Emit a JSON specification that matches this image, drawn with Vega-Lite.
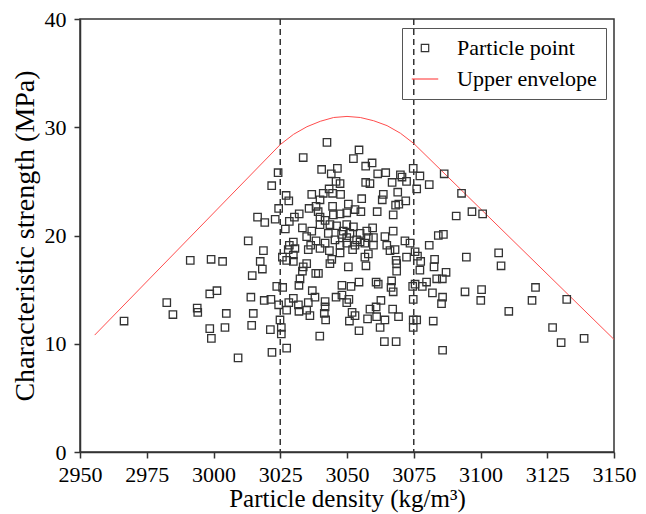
{
  "$schema": "https://vega.github.io/schema/vega-lite/v6.json",
  "width": 534,
  "height": 433,
  "autosize": "none",
  "padding": {"left": 80, "top": 19, "right": 32, "bottom": 62},
  "background": "white",
  "config": {
    "view": {"stroke": "#333", "strokeWidth": 1.5},
    "font": "Liberation Serif",
    "axis": {
      "labelFont": "Liberation Serif",
      "titleFont": "Liberation Serif",
      "labelFontSize": 22,
      "titleFontSize": 25,
      "titleFontWeight": "normal",
      "labelColor": "black",
      "titleColor": "black",
      "labelFlush": false,
      "labelOverlap": false,
      "domainColor": "#333",
      "domainWidth": 1.5,
      "tickColor": "#333",
      "tickWidth": 1.5,
      "tickSize": 6,
      "grid": false
    },
    "legend": {
      "labelFont": "Liberation Serif",
      "labelFontSize": 22,
      "labelColor": "black"
    }
  },
  "datasets": {
    "points": [
      {"density": 2966.5, "strength": 12.1}, {"density": 2982.5, "strength": 13.8}, {"density": 2984.8, "strength": 12.7},
      {"density": 2991.3, "strength": 17.7}, {"density": 2999.1, "strength": 17.8}, {"density": 3003.4, "strength": 17.6},
      {"density": 2998.6, "strength": 14.6}, {"density": 3001.3, "strength": 14.9}, {"density": 2993.9, "strength": 13.3},
      {"density": 2994.1, "strength": 12.9}, {"density": 3004.8, "strength": 12.8}, {"density": 2998.6, "strength": 11.4},
      {"density": 2999.2, "strength": 10.5}, {"density": 3004.3, "strength": 11.5}, {"density": 3009.2, "strength": 8.7},
      {"density": 3013.0, "strength": 19.5}, {"density": 3016.5, "strength": 21.7}, {"density": 3019.2, "strength": 21.2},
      {"density": 3018.7, "strength": 18.6}, {"density": 3017.5, "strength": 17.6}, {"density": 3018.3, "strength": 16.9},
      {"density": 3014.5, "strength": 16.3}, {"density": 3014.0, "strength": 14.3}, {"density": 3014.9, "strength": 12.8},
      {"density": 3014.3, "strength": 11.7}, {"density": 3019.0, "strength": 14.0}, {"density": 3021.5, "strength": 14.1},
      {"density": 3021.3, "strength": 11.3}, {"density": 3021.9, "strength": 9.2}, {"density": 3023.1, "strength": 21.5},
      {"density": 3024.4, "strength": 22.5}, {"density": 3026.9, "strength": 20.6}, {"density": 3023.7, "strength": 15.3},
      {"density": 3025.9, "strength": 15.2}, {"density": 3024.4, "strength": 13.6}, {"density": 3024.9, "strength": 12.2},
      {"density": 3025.4, "strength": 11.5}, {"density": 3025.4, "strength": 10.9}, {"density": 3027.4, "strength": 9.6},
      {"density": 3025.8, "strength": 18.0}, {"density": 3028.0, "strength": 18.7}, {"density": 3028.2, "strength": 13.8},
      {"density": 3027.4, "strength": 13.1}, {"density": 3024.2, "strength": 25.8}, {"density": 3021.8, "strength": 24.6},
      {"density": 3027.2, "strength": 23.7}, {"density": 3028.2, "strength": 23.2},
      {"density": 3042.5, "strength": 28.6}, {"density": 3033.6, "strength": 27.2}, {"density": 3040.5, "strength": 26.1},
      {"density": 3046.4, "strength": 26.2}, {"density": 3044.1, "strength": 25.7}, {"density": 3045.9, "strength": 25.0},
      {"density": 3047.4, "strength": 24.8}, {"density": 3043.3, "strength": 24.3}, {"density": 3041.1, "strength": 23.9},
      {"density": 3036.8, "strength": 23.8}, {"density": 3039.9, "strength": 23.3}, {"density": 3044.6, "strength": 23.9},
      {"density": 3047.6, "strength": 23.8}, {"density": 3038.4, "strength": 22.7}, {"density": 3035.8, "strength": 22.5},
      {"density": 3044.6, "strength": 22.7}, {"density": 3039.2, "strength": 22.2}, {"density": 3032.1, "strength": 22.0},
      {"density": 3030.3, "strength": 21.7}, {"density": 3028.4, "strength": 21.3}, {"density": 3039.9, "strength": 21.7},
      {"density": 3044.9, "strength": 21.9}, {"density": 3047.4, "strength": 22.0}, {"density": 3041.8, "strength": 21.4},
      {"density": 3039.9, "strength": 21.0}, {"density": 3033.3, "strength": 20.7}, {"density": 3043.6, "strength": 21.0},
      {"density": 3046.1, "strength": 20.9}, {"density": 3036.8, "strength": 20.4}, {"density": 3043.0, "strength": 20.2},
      {"density": 3048.0, "strength": 20.1}, {"density": 3034.9, "strength": 19.9}, {"density": 3038.4, "strength": 19.5},
      {"density": 3041.8, "strength": 19.3}, {"density": 3045.5, "strength": 19.6}, {"density": 3029.9, "strength": 19.4},
      {"density": 3028.4, "strength": 19.1}, {"density": 3030.5, "strength": 18.8}, {"density": 3036.4, "strength": 19.1},
      {"density": 3039.9, "strength": 18.8}, {"density": 3047.4, "strength": 19.1},
      {"density": 3054.5, "strength": 27.9}, {"density": 3052.4, "strength": 27.1}, {"density": 3057.0, "strength": 26.4},
      {"density": 3059.4, "strength": 26.7}, {"density": 3061.5, "strength": 25.7}, {"density": 3064.5, "strength": 25.8},
      {"density": 3070.0, "strength": 25.6}, {"density": 3070.6, "strength": 25.4}, {"density": 3072.3, "strength": 25.0},
      {"density": 3074.8, "strength": 26.2}, {"density": 3077.3, "strength": 25.5}, {"density": 3076.1, "strength": 24.3},
      {"density": 3080.8, "strength": 24.7}, {"density": 3086.4, "strength": 25.7}, {"density": 3057.0, "strength": 24.9},
      {"density": 3058.6, "strength": 24.8}, {"density": 3066.9, "strength": 24.9}, {"density": 3055.5, "strength": 23.4},
      {"density": 3063.6, "strength": 23.8}, {"density": 3063.2, "strength": 23.3}, {"density": 3069.0, "strength": 24.0},
      {"density": 3072.0, "strength": 23.2}, {"density": 3069.4, "strength": 22.9}, {"density": 3068.2, "strength": 22.8},
      {"density": 3050.5, "strength": 22.9}, {"density": 3053.0, "strength": 22.4}, {"density": 3049.9, "strength": 22.1},
      {"density": 3055.2, "strength": 22.2}, {"density": 3061.3, "strength": 22.2}, {"density": 3067.3, "strength": 21.9},
      {"density": 3049.9, "strength": 21.0}, {"density": 3052.4, "strength": 20.8}, {"density": 3048.6, "strength": 20.4},
      {"density": 3051.1, "strength": 20.2}, {"density": 3054.9, "strength": 20.2}, {"density": 3057.4, "strength": 20.4},
      {"density": 3059.6, "strength": 20.7}, {"density": 3049.9, "strength": 19.8}, {"density": 3053.6, "strength": 19.6},
      {"density": 3058.0, "strength": 19.8}, {"density": 3059.9, "strength": 19.8}, {"density": 3064.2, "strength": 19.9},
      {"density": 3067.3, "strength": 20.4}, {"density": 3071.7, "strength": 19.5}, {"density": 3073.6, "strength": 19.3},
      {"density": 3084.2, "strength": 20.0}, {"density": 3086.1, "strength": 20.1}, {"density": 3064.9, "strength": 19.1},
      {"density": 3080.8, "strength": 19.1}, {"density": 3049.9, "strength": 19.3}, {"density": 3053.0, "strength": 19.1},
      {"density": 3054.9, "strength": 19.4}, {"density": 3056.7, "strength": 19.3}, {"density": 3059.9, "strength": 19.1},
      {"density": 3092.9, "strength": 23.9}, {"density": 3090.9, "strength": 21.8}, {"density": 3096.8, "strength": 22.2},
      {"density": 3100.8, "strength": 22.0}, {"density": 3094.7, "strength": 18.0}, {"density": 3106.8, "strength": 18.4},
      {"density": 3107.7, "strength": 17.2}, {"density": 3087.1, "strength": 16.6}, {"density": 3085.7, "strength": 16.0},
      {"density": 3094.2, "strength": 14.8}, {"density": 3100.4, "strength": 15.0}, {"density": 3100.1, "strength": 14.0},
      {"density": 3110.6, "strength": 13.0}, {"density": 3120.6, "strength": 15.2}, {"density": 3119.3, "strength": 14.0},
      {"density": 3132.3, "strength": 14.1}, {"density": 3127.0, "strength": 11.5}, {"density": 3130.2, "strength": 10.1},
      {"density": 3138.8, "strength": 10.5}, {"density": 3085.8, "strength": 14.3}, {"density": 3085.4, "strength": 13.7},
      {"density": 3085.8, "strength": 9.4},
      {"density": 3039.8, "strength": 10.7}, {"density": 3054.5, "strength": 11.2}, {"density": 3064.0, "strength": 10.2},
      {"density": 3068.4, "strength": 10.2}, {"density": 3074.8, "strength": 11.5}, {"density": 3074.8, "strength": 12.2},
      {"density": 3076.1, "strength": 12.2}, {"density": 3082.3, "strength": 12.1}, {"density": 3074.8, "strength": 14.1},
      {"density": 3082.0, "strength": 14.7}, {"density": 3062.4, "strength": 11.5}, {"density": 3057.7, "strength": 12.3},
      {"density": 3061.1, "strength": 12.5}, {"density": 3064.2, "strength": 12.2}, {"density": 3069.3, "strength": 12.5},
      {"density": 3067.1, "strength": 13.2}, {"density": 3062.7, "strength": 14.0}, {"density": 3060.9, "strength": 13.4},
      {"density": 3058.6, "strength": 13.2}, {"density": 3051.9, "strength": 12.9}, {"density": 3053.0, "strength": 12.6},
      {"density": 3050.9, "strength": 12.1}, {"density": 3042.0, "strength": 12.2}, {"density": 3041.5, "strength": 12.8},
      {"density": 3041.8, "strength": 13.4}, {"density": 3041.8, "strength": 13.9}, {"density": 3036.1, "strength": 12.6},
      {"density": 3034.9, "strength": 13.1}, {"density": 3032.0, "strength": 13.0}, {"density": 3031.8, "strength": 13.6},
      {"density": 3029.9, "strength": 14.2}, {"density": 3035.5, "strength": 13.8}, {"density": 3037.0, "strength": 14.9},
      {"density": 3038.0, "strength": 14.3}, {"density": 3045.9, "strength": 14.3}, {"density": 3048.1, "strength": 14.5},
      {"density": 3050.7, "strength": 14.1}, {"density": 3049.9, "strength": 13.8}, {"density": 3032.0, "strength": 15.4},
      {"density": 3048.1, "strength": 15.4}, {"density": 3051.5, "strength": 15.3}, {"density": 3054.5, "strength": 15.7},
      {"density": 3061.7, "strength": 15.5}, {"density": 3066.5, "strength": 15.2}, {"density": 3067.3, "strength": 14.8},
      {"density": 3066.7, "strength": 15.8}, {"density": 3075.5, "strength": 15.5}, {"density": 3074.6, "strength": 15.3},
      {"density": 3078.2, "strength": 15.3}, {"density": 3079.8, "strength": 15.7}, {"density": 3077.3, "strength": 16.8},
      {"density": 3082.6, "strength": 17.1}, {"density": 3083.6, "strength": 16.0}, {"density": 3033.6, "strength": 17.1},
      {"density": 3034.9, "strength": 17.4}, {"density": 3033.3, "strength": 16.7}, {"density": 3038.3, "strength": 16.5},
      {"density": 3039.3, "strength": 16.5}, {"density": 3050.5, "strength": 17.1}, {"density": 3057.1, "strength": 17.2},
      {"density": 3068.6, "strength": 17.4}, {"density": 3068.6, "strength": 16.7}, {"density": 3043.6, "strength": 17.4},
      {"density": 3029.9, "strength": 18.2}, {"density": 3027.4, "strength": 17.7}, {"density": 3029.9, "strength": 17.6},
      {"density": 3035.5, "strength": 18.7}, {"density": 3032.4, "strength": 16.0}, {"density": 3043.4, "strength": 18.6},
      {"density": 3044.3, "strength": 17.8}, {"density": 3047.4, "strength": 18.4},
      {"density": 3056.7, "strength": 18.0}, {"density": 3058.0, "strength": 18.3}, {"density": 3052.1, "strength": 18.7},
      {"density": 3066.1, "strength": 18.6}, {"density": 3068.0, "strength": 18.7}, {"density": 3068.4, "strength": 17.7},
      {"density": 3072.3, "strength": 18.0}, {"density": 3075.5, "strength": 18.5}, {"density": 3076.4, "strength": 18.1},
      {"density": 3077.6, "strength": 17.6}, {"density": 3082.8, "strength": 17.8}, {"density": 3060.9, "strength": 15.7}
    ],
    "envelope": [
      {"density": 2955.5, "strength": 10.8},
      {"density": 3025, "strength": 28.4},
      {"density": 3030, "strength": 29.35},
      {"density": 3035, "strength": 30.05},
      {"density": 3040, "strength": 30.55},
      {"density": 3045, "strength": 30.9},
      {"density": 3050, "strength": 31.0},
      {"density": 3055, "strength": 30.9},
      {"density": 3060, "strength": 30.6},
      {"density": 3065, "strength": 30.15},
      {"density": 3070, "strength": 29.45},
      {"density": 3075, "strength": 28.5},
      {"density": 3150, "strength": 10.4}
    ],
    "bounds": [{"density": 3025}, {"density": 3075}]
  },
  "layer": [
    {
      "data": {"name": "bounds"},
      "mark": {"type": "rule", "color": "#333", "strokeWidth": 1.5, "strokeDash": [6, 4]},
      "encoding": {
        "x": {"field": "density", "type": "quantitative"}
      }
    },
    {
      "data": {"name": "envelope"},
      "mark": {"type": "line", "strokeWidth": 1, "interpolate": "linear"},
      "encoding": {
        "x": {"field": "density", "type": "quantitative"},
        "y": {"field": "strength", "type": "quantitative"},
        "color": {"datum": "Upper envelope", "type": "nominal"}
      }
    },
    {
      "data": {"name": "points"},
      "mark": {"type": "point", "filled": false, "strokeWidth": 1.3, "opacity": 1},
      "encoding": {
        "x": {
          "field": "density",
          "type": "quantitative",
          "scale": {"domain": [2950, 3150], "nice": false, "zero": false},
          "axis": {"values": [2950, 2975, 3000, 3025, 3050, 3075, 3100, 3125, 3150], "format": "d", "title": "Particle density (kg/m³)", "titlePadding": 1, "labelPadding": 6}
        },
        "y": {
          "field": "strength",
          "type": "quantitative",
          "scale": {"domain": [0, 40], "nice": false},
          "axis": {"values": [0, 10, 20, 30, 40], "title": "Characteristic strength (MPa)", "titleFontSize": 28, "titlePadding": 5, "labelPadding": 8}
        },
        "color": {
          "datum": "Particle point",
          "type": "nominal",
          "scale": {"domain": ["Particle point", "Upper envelope"], "range": ["#333333", "#ff4d4d"]},
          "legend": {
            "title": null,
            "orient": "none",
            "legendX": 322,
            "legendY": 9,
            "strokeColor": "#555",
            "padding": 9,
            "rowPadding": 6,
            "labelOffset": 18,
            "symbolStrokeWidth": 1.2
          }
        },
        "shape": {
          "datum": "Particle point",
          "type": "nominal",
          "scale": {"domain": ["Particle point", "Upper envelope"], "range": ["square", "stroke"]}
        },
        "size": {
          "datum": "Particle point",
          "type": "nominal",
          "scale": {"domain": ["Particle point", "Upper envelope"], "range": [55, 700]}
        }
      }
    }
  ]
}
